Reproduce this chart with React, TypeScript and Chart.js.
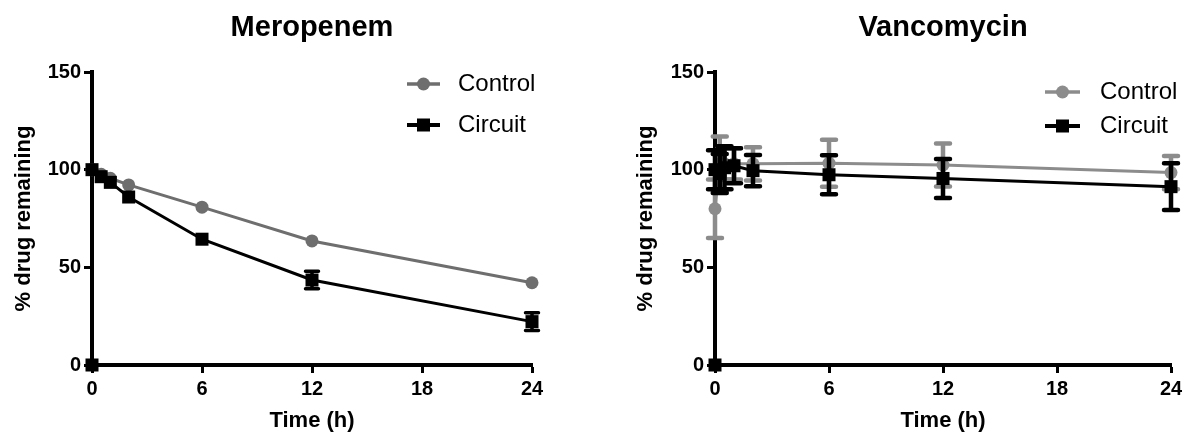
import React, { useEffect, useRef } from "react";
import { Chart, registerables } from "chart.js";

Chart.register(...registerables);

// ---------- Data ----------
const xTicks = [0, 6, 12, 18, 24];
const yTicks = [0, 50, 100, 150];
const seriesLabels = ["Control", "Circuit"];

const meroTimes = [0, 0.5, 1, 2, 6, 12, 24];
const meroControl = [100, 97.6, 95.6, 92.2, 80.8, 63.5, 42.1];
const meroControlErr = [0, 0, 0, 0, 0, 0, 0];
const meroCircuit = [100, 96.4, 93.5, 86.0, 64.4, 43.5, 22.2];
const meroCircuitErr = [0, 0, 0, 0, 0, 4.5, 4.5];

const vancoTimes = [0, 0.25, 0.5, 1, 2, 6, 12, 24];
const vancoControl = [80, 103, 103, 103, 103, 103.3, 102.4, 98.5];
const vancoControlErr = [15, 14, 8, 8, 8.5, 12, 11, 8.5];
const vancoCircuit = [100, 98, 101, 102, 99.5, 97.4, 95.5, 91.3];
const vancoCircuitErr = [10, 10, 11, 9, 8, 10, 10, 12];

const blankTimes = [0];
const blankValues = [0];

const FONT = "'Liberation Sans', Arial, Helvetica, sans-serif";

// ---------- Plugins ----------
const errorBarPlugin = {
  id: "errorBars",
  beforeDatasetDraw(chart: any, args: any, opts: any) {
    const ds = chart.data.datasets[args.index];
    if (!ds.errors) return;
    const { ctx } = chart;
    const x = chart.scales.x;
    const y = chart.scales.y;
    ctx.save();
    ctx.strokeStyle = ds.borderColor;
    ctx.lineWidth = opts.width || 3.5;
    ctx.lineCap = "round";
    const half = opts.half || 6;
    ds.data.forEach((p: any, i: number) => {
      const e = ds.errors[i];
      if (!e) return;
      const px = x.getPixelForValue(p.x);
      const top = y.getPixelForValue(p.y + e);
      const bot = y.getPixelForValue(p.y - e);
      ctx.beginPath();
      ctx.moveTo(px, top);
      ctx.lineTo(px, bot);
      ctx.moveTo(px - half, top);
      ctx.lineTo(px + half, top);
      ctx.moveTo(px - half, bot);
      ctx.lineTo(px + half, bot);
      ctx.stroke();
    });
    ctx.restore();
  },
};

const legendPlugin = {
  id: "customLegend",
  afterDraw(chart: any, _args: any, opts: any) {
    const { ctx } = chart;
    const entries = chart.data.datasets.filter((d: any) => d.inLegend);
    ctx.save();
    entries.forEach((ds: any, i: number) => {
      const yy = opts.rows[i];
      const cx = (opts.lineX0 + opts.lineX1) / 2;
      ctx.strokeStyle = ds.borderColor;
      ctx.fillStyle = ds.backgroundColor;
      ctx.lineWidth = ds.pointStyle === "rect" ? 4 : 3.5;
      ctx.beginPath();
      ctx.moveTo(opts.lineX0, yy);
      ctx.lineTo(opts.lineX1, yy);
      ctx.stroke();
      if (ds.pointStyle === "rect") {
        ctx.fillRect(cx - 6.5, yy - 6.5, 13, 13);
      } else {
        ctx.beginPath();
        ctx.arc(cx, yy, 6.5, 0, Math.PI * 2);
        ctx.fill();
      }
      ctx.fillStyle = "#000";
      ctx.font = `24px ${FONT}`;
      ctx.textBaseline = "middle";
      ctx.textAlign = "left";
      ctx.fillText(ds.label, opts.textX, yy);
    });
    ctx.restore();
  },
};

function makeConfig(p: any) {
  const toPts = (ts: number[], vs: number[]) => ts.map((t, i) => ({ x: t, y: vs[i] }));
  return {
    type: "scatter",
    data: {
      datasets: [
        {
          label: seriesLabels[0],
          inLegend: true,
          data: toPts(p.times, p.control),
          errors: p.controlErr,
          borderColor: p.controlColor,
          backgroundColor: p.controlColor,
          pointStyle: "circle",
          pointRadius: 6.5,
          pointBorderWidth: 0,
          borderWidth: 3,
          showLine: true,
          clip: false,
          order: 2,
        },
        {
          label: seriesLabels[1],
          inLegend: true,
          data: toPts(p.times, p.circuit),
          errors: p.circuitErr,
          borderColor: "#000",
          backgroundColor: "#000",
          pointStyle: "rect",
          pointRadius: 9.2,
          pointBorderWidth: 0,
          borderWidth: 3,
          showLine: true,
          clip: false,
          order: 1,
        },
        {
          label: "",
          inLegend: false,
          data: toPts(blankTimes, blankValues),
          borderColor: "#000",
          backgroundColor: "#000",
          pointStyle: "rect",
          pointRadius: 9.2,
          pointBorderWidth: 0,
          showLine: false,
          clip: false,
          order: 0,
        },
      ],
    },
    options: {
      animation: false,
      responsive: false,
      events: [],
      layout: { padding: { left: 0, right: p.padRight, top: 0, bottom: 0 } },
      plugins: {
        legend: { display: false },
        tooltip: { enabled: false },
        title: {
          display: true,
          text: p.title,
          fullSize: false,
          color: "#000",
          font: { family: FONT, size: 29, weight: "bold", lineHeight: 1.2 },
          padding: { top: 11, bottom: 26.2 },
        },
        customLegend: p.legend,
        errorBars: p.errorBars,
      },
      scales: {
        x: {
          type: "linear",
          min: 0,
          max: 24,
          afterBuildTicks: (s: any) => {
            s.ticks = xTicks.map((v) => ({ value: v }));
          },
          afterFit: (s: any) => {
            s.height = 83;
          },
          grid: {
            display: true,
            drawOnChartArea: false,
            drawTicks: true,
            tickLength: 8,
            tickWidth: 3,
            tickColor: "#000",
          },
          border: { display: true, width: 4, color: "#000" },
          ticks: {
            color: "#000",
            font: { family: FONT, size: 20, weight: "bold" },
            padding: 4,
            maxRotation: 0,
          },
          title: {
            display: true,
            text: "Time (h)",
            color: "#000",
            font: { family: FONT, size: 22, weight: "bold", lineHeight: 1.2 },
            padding: { top: 0, bottom: 14 },
          },
        },
        y: {
          type: "linear",
          min: 0,
          max: 150,
          afterBuildTicks: (s: any) => {
            s.ticks = yTicks.map((v) => ({ value: v }));
          },
          afterFit: (s: any) => {
            s.width = p.yAxisWidth;
          },
          grid: {
            display: true,
            drawOnChartArea: false,
            drawTicks: true,
            tickLength: 8,
            tickWidth: 3,
            tickColor: "#000",
          },
          border: { display: true, width: 4, color: "#000" },
          ticks: {
            color: "#000",
            font: { family: FONT, size: 20, weight: "bold" },
            padding: 3,
          },
          title: {
            display: true,
            text: "% drug remaining",
            color: "#000",
            font: { family: FONT, size: 22, weight: "bold", lineHeight: 1.2 },
            padding: { top: p.yTitlePad, bottom: 0 },
          },
        },
      },
    },
    plugins: [errorBarPlugin, legendPlugin],
  };
}

const meroConfig = () =>
  makeConfig({
    title: "Meropenem",
    times: meroTimes,
    control: meroControl,
    controlErr: meroControlErr,
    circuit: meroCircuit,
    circuitErr: meroCircuitErr,
    controlColor: "#6e6e6e",
    yAxisWidth: 92,
    padRight: 68,
    yTitlePad: 11,
    errorBars: { half: 6.5, width: 3.5 },
    legend: { lineX0: 407, lineX1: 440, textX: 458, rows: [84, 125] },
  });

const vancoConfig = () =>
  makeConfig({
    title: "Vancomycin",
    times: vancoTimes,
    control: vancoControl,
    controlErr: vancoControlErr,
    circuit: vancoCircuit,
    circuitErr: vancoCircuitErr,
    controlColor: "#8c8c8c",
    yAxisWidth: 115,
    padRight: 29,
    yTitlePad: 33,
    errorBars: { half: 7, width: 4.5 },
    legend: { lineX0: 445, lineX1: 480, textX: 500, rows: [92, 126] },
  });

function ChartPanel(props: { left: number; width: number; build: () => any }) {
  const ref = useRef<HTMLCanvasElement>(null);
  useEffect(() => {
    const chart = new Chart(ref.current as HTMLCanvasElement, props.build() as any);
    return () => chart.destroy();
  }, []);
  return (
    <div style={{ position: "absolute", left: props.left, top: 0, width: props.width, height: 448 }}>
      <canvas ref={ref} width={props.width} height={448} style={{ width: props.width, height: 448, display: "block" }} />
    </div>
  );
}

export default function App() {
  return (
    <div style={{ position: "absolute", left: 0, top: 0, width: 1200, height: 448, background: "#fff", overflow: "hidden" }}>
      <ChartPanel left={0} width={600} build={meroConfig} />
      <ChartPanel left={600} width={600} build={vancoConfig} />
    </div>
  );
}
